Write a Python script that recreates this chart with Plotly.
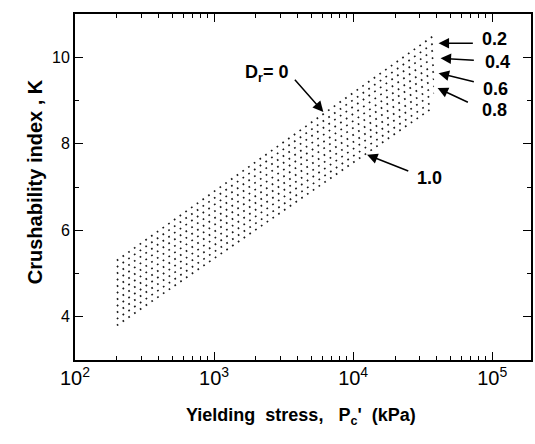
import plotly.graph_objects as go
import numpy as np

# Data
dr_values = [0.0, 0.1, 0.2, 0.3, 0.4, 0.5, 0.6, 0.7, 0.8, 0.9, 1.0]
p_start = 200.0      # kPa
p_end = 38000.0      # kPa
k_start = [5.30, 5.15, 5.00, 4.85, 4.70, 4.55, 4.40, 4.25, 4.10, 3.95, 3.80]
k_end = [10.50, 10.33, 10.17, 10.00, 9.83, 9.67, 9.50, 9.33, 9.17, 9.00, 8.85]

FONT = "Liberation Sans, Arial, Helvetica, sans-serif"

fig = go.Figure()
for dr, ks, ke in zip(dr_values, k_start, k_end):
    fig.add_trace(go.Scatter(
        x=[p_start, p_end], y=[ks, ke], mode="lines",
        line=dict(color="#1a1a1a", width=1.7, dash="1.7px,5.3px"),
        showlegend=False, hoverinfo="skip"))

fig.update_xaxes(
    type="log", range=[2, np.log10(1.9e5)],
    dtick=1, exponentformat="power",
    showline=True, linecolor="black", linewidth=2, mirror="ticks",
    ticks="inside", ticklen=8, tickwidth=1.2, tickcolor="black",
    showgrid=False, zeroline=False,
    tickfont=dict(family=FONT, size=16, color="black"),
    minor=dict(ticks="inside", ticklen=4, tickwidth=1, tickcolor="black",
               dtick="D1", showgrid=False),
)
fig.update_yaxes(
    range=[3, 11], tick0=0, dtick=2,
    showline=True, linecolor="black", linewidth=2, mirror="ticks",
    ticks="inside", ticklen=8, tickwidth=1.2, tickcolor="black",
    showgrid=False, zeroline=False,
    tickfont=dict(family=FONT, size=16, color="black"),
    minor=dict(ticks="inside", ticklen=4, tickwidth=1, tickcolor="black",
               dtick=1, tick0=0, showgrid=False),
)

def lx(px):
    return 2 + (px - 75) / 140.0

def ky(py):
    return 10 - (py - 57) / 43.5

ann = []
arrows = [((477, 43), (441, 43)), ((478, 60), (443, 58)), ((478, 82), (441, 73)),
          ((472, 103), (440, 88)), ((412, 172), (369, 155)), ((295, 78), (325, 112))]
for (tx, ty), (hx, hy) in arrows:
    ann.append(dict(x=lx(hx), y=ky(hy), ax=lx(tx), ay=ky(ty), axref="x", ayref="y",
                    xref="x", yref="y", text="", showarrow=True, arrowhead=2,
                    arrowsize=1.4, arrowwidth=1.5, arrowcolor="black"))

labels = [("0.2", 497, 39), ("0.4", 500, 62), ("0.6", 498, 89), ("0.8", 497, 110),
          ("1.0", 432, 178)]
for t, px, py in labels:
    ann.append(dict(x=lx(px), y=ky(py), xref="x", yref="y", text="<b>%s</b>" % t,
                    showarrow=False, font=dict(family=FONT, size=18, color="black")))
ann.append(dict(x=lx(268), y=ky(73), xref="x", yref="y",
                text="<b>D<sub>r</sub>= 0</b>", showarrow=False,
                font=dict(family=FONT, size=18, color="black")))

ann.append(dict(x=(302 - 75) / 458.0, y=(360 - 430) / 346.0, xref="paper", yref="paper",
                text="<b>Yielding  stress,   P<sub>c</sub>'  (kPa)</b>", showarrow=False,
                font=dict(family=FONT, size=18, color="black")))
ann.append(dict(x=(22 - 75) / 458.0, y=(360 - 182) / 346.0, xref="paper", yref="paper",
                text="<b>Crushability index , K</b>", showarrow=False, textangle=-90,
                font=dict(family=FONT, size=20, color="black")))

fig.update_layout(
    width=535, height=444,
    margin=dict(l=75, r=2, t=14, b=84),
    paper_bgcolor="white", plot_bgcolor="white",
    annotations=ann, showlegend=False,
    font=dict(family=FONT, color="black"),
)

fig.write_html("out.html")
